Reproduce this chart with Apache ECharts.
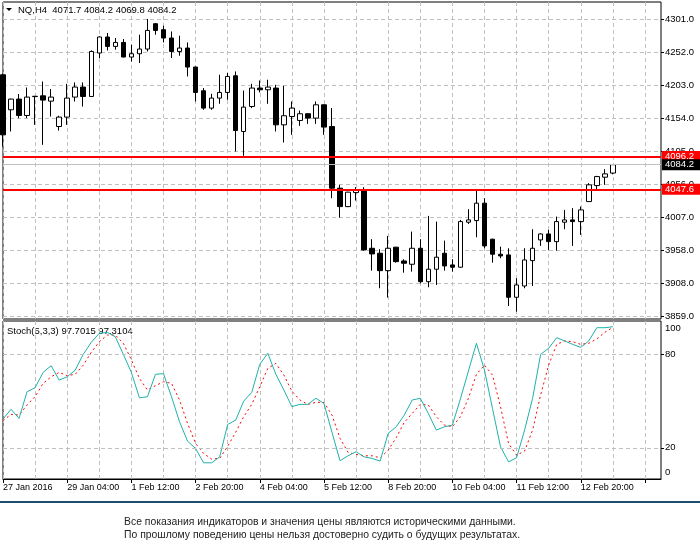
<!DOCTYPE html>
<html>
<head>
<meta charset="utf-8">
<script src="https://cdn.jsdelivr.net/npm/echarts/dist/echarts.min.js"></script>
<style>
  html, body { margin: 0; padding: 0; background: #fff; }
  #chart { width: 700px; height: 552px; }
</style>
</head>
<body>
<div id="chart"></div>
<script>
// NQ, H4 - bars (27 Jan 2016 16:00 onwards)
const opens = [4218.0, 4165.9, 4181.8, 4157.4, 4185.5, 4186.7, 4178.8, 4141.0, 4155.0, 4184.8,
  4199.7, 4185.7, 4250.4, 4274.2, 4260.2, 4266.1, 4244.4, 4249.3, 4256.3, 4294.0,
  4285.1, 4272.7, 4252.7, 4257.8, 4229.5, 4194.2, 4168.4, 4183.3, 4191.7, 4216.5,
  4133.6, 4170.8, 4198.2, 4195.7, 4198.2, 4143.5, 4155.9, 4150.0, 4160.0, 4153.5,
  4173.3, 4141.0, 4049.2, 4021.8, 4042.7, 4046.7, 3959.8, 3952.4, 3926.5, 3961.4,
  3940.9, 3936.0, 3959.8, 3910.1, 3928.6, 3952.4, 3935.0, 3931.6, 3998.6, 4001.0,
  4026.9, 3973.3, 3950.9, 3949.9, 3886.9, 3903.7, 3941.4, 3972.2, 3981.1, 3969.7,
  3998.6, 4002.0, 3999.5, 4029.3, 4053.1, 4065.6, 4071.7]
const highs = [4220.0, 4182.5, 4189.3, 4199.1, 4186.5, 4208.0, 4196.7, 4157.0, 4204.6, 4206.6,
  4206.6, 4254.2, 4275.0, 4280.1, 4272.7, 4271.2, 4262.7, 4277.6, 4301.0, 4295.0,
  4291.0, 4282.5, 4276.1, 4266.1, 4230.0, 4198.2, 4189.7, 4218.0, 4220.6, 4223.0,
  4194.6, 4204.6, 4209.5, 4210.6, 4203.1, 4201.6, 4178.2, 4164.8, 4160.5, 4178.2,
  4174.0, 4168.4, 4054.2, 4044.0, 4050.7, 4050.7, 3973.3, 3958.4, 3978.2, 3962.0,
  3943.5, 3984.6, 3973.3, 4008.0, 3999.5, 3971.2, 3943.5, 4002.0, 4018.0, 4045.7,
  4034.3, 3974.0, 3962.2, 3959.8, 3915.2, 3959.8, 3988.2, 3982.0, 3987.1, 4007.0,
  4016.9, 4019.5, 4021.8, 4056.7, 4067.6, 4077.5, 4084.2]
const lows = [4111.2, 4133.6, 4153.5, 4153.5, 4143.5, 4113.7, 4155.9, 4135.0, 4143.5, 4178.2,
  4170.8, 4185.0, 4242.9, 4254.2, 4255.3, 4244.0, 4237.8, 4235.5, 4252.7, 4277.6,
  4266.1, 4242.9, 4246.3, 4215.5, 4178.2, 4165.9, 4165.9, 4174.8, 4180.8, 4103.8,
  4097.4, 4168.4, 4191.7, 4174.8, 4133.6, 4117.2, 4128.6, 4142.0, 4145.0, 4145.0,
  4128.6, 4034.3, 4005.4, 4021.0, 4030.8, 3956.3, 3926.5, 3900.3, 3886.3, 3938.4,
  3923.5, 3925.0, 3907.7, 3901.8, 3905.2, 3926.5, 3925.0, 3931.0, 3996.0, 3976.2,
  3959.8, 3938.4, 3945.0, 3873.9, 3865.4, 3900.3, 3903.7, 3963.3, 3957.3, 3956.3,
  3988.2, 3963.3, 3979.7, 4029.0, 4047.7, 4054.2, 4069.8]
const closes = [4128.6, 4181.8, 4157.4, 4184.8, 4186.0, 4180.3, 4184.8, 4155.0, 4183.3, 4199.7,
  4185.7, 4252.7, 4274.2, 4260.2, 4266.1, 4244.4, 4249.3, 4256.3, 4284.0, 4284.0,
  4272.7, 4252.7, 4257.8, 4229.5, 4191.7, 4168.4, 4183.3, 4191.7, 4215.5, 4135.0,
  4169.9, 4198.2, 4195.7, 4199.7, 4143.5, 4157.0, 4168.4, 4160.0, 4153.5, 4173.3,
  4140.1, 4049.2, 4021.8, 4043.3, 4046.7, 3957.3, 3951.4, 3926.5, 3959.8, 3939.9,
  3937.5, 3959.8, 3910.1, 3928.6, 3946.5, 3933.5, 3931.6, 3999.5, 4002.0, 4026.9,
  3963.3, 3950.9, 3948.4, 3886.9, 3905.2, 3942.4, 3959.8, 3981.1, 3969.7, 3999.5,
  4002.0, 3999.5, 4016.9, 4054.2, 4066.5, 4070.5, 4084.2]

// Stochastic(5,3,3): main (%K) and signal (%D)
const stochMain = [38.5, 44.7, 38.9, 56.0, 58.6, 68.4, 72.7, 63.5, 65.6, 69.9,
  80.0, 87.7, 93.5, 94.1, 91.3, 80.0, 68.4, 52.1, 52.8, 67.2,
  67.6, 52.8, 36.7, 24.3, 19.6, 10.4, 10.4, 14.2, 35.0, 37.8,
  50.0, 55.6, 73.6, 80.7, 67.2, 57.1, 46.4, 47.9, 47.9, 51.8,
  48.5, 29.9, 11.7, 14.9, 17.5, 14.2, 13.2, 11.5, 29.3, 33.5,
  41.0, 50.7, 51.8, 42.1, 31.4, 33.5, 34.6, 51.3, 69.3, 87.1,
  69.9, 45.3, 20.7, 11.0, 13.6, 31.4, 51.8, 80.0, 83.9, 90.7,
  88.6, 86.4, 84.5, 88.6, 97.1, 97.1, 97.7]
const stochSignal = [37.5, 41.5, 41.0, 47.5, 52.8, 61.4, 65.6, 68.4, 66.3, 67.2,
  73.1, 81.3, 88.1, 92.4, 92.4, 87.1, 76.4, 64.6, 57.1, 59.9,
  62.4, 61.4, 50.7, 35.7, 22.8, 16.4, 12.8, 13.2, 21.0, 30.0,
  40.0, 47.9, 59.2, 71.0, 74.2, 66.7, 56.4, 50.7, 47.9, 49.2,
  49.2, 41.0, 26.1, 17.1, 15.8, 14.9, 14.9, 13.6, 18.5, 26.5,
  36.3, 42.1, 47.9, 47.5, 40.0, 34.6, 33.5, 40.0, 51.8, 67.2,
  73.1, 66.7, 46.4, 22.8, 15.3, 17.9, 31.4, 53.9, 73.1, 86.4,
  88.6, 88.1, 86.4, 87.1, 89.9, 94.1, 97.3]

// time labels, one every 8 bars
const dateLabels = ['27 Jan 2016', '29 Jan 04:00', '1 Feb 12:00', '2 Feb 20:00', '4 Feb 04:00',
  '5 Feb 12:00', '8 Feb 20:00', '10 Feb 04:00', '11 Feb 12:00', '12 Feb 20:00']
const priceTicks = ['3859.0', '3908.0', '3958.0', '4007.0', '4056.0', '4105.0', '4154.0', '4203.0', '4252.0', '4301.0']
const stochTicks = [0, 20, 80, 100]
const stochLevels = [20, 80]
// horizontal lines: resistance, bid, support
const priceLines = [4096.2, 4084.2, 4047.6]
const stochHeader = 'Stoch(5,3,3) 97.7015 97.3104'
const footerLines = ['Все показания индикаторов и значения цены являются историческими данными.',
  'По прошлому поведению цены нельзя достоверно судить о будущих результатах.']

const slotCount = 83 // bars + empty space on the right side
const labelStep = 8
const gridStep = 4
const font = 'Liberation Sans'

let categories = []
for (let i = 0; i < slotCount; i++) {
  categories.push(i % labelStep === 0 && dateLabels[i / labelStep] ? dateLabels[i / labelStep] : '')
}
const candles = opens.map((o, i) => [o, closes[i], lows[i], highs[i]])
const last = opens.length - 1
const header = 'NQ,H4  ' + [opens[last], highs[last], lows[last], closes[last]].map(v => v.toFixed(1)).join(' ')

const pMin = Number(priceTicks[0])
const pMax = Number(priceTicks[priceTicks.length - 1])
const pStep = (pMax - pMin) / (priceTicks.length - 1)

const dash = { color: '#c0c0c0', type: [4, 3], width: 1 }

const myChart = echarts.init(document.getElementById('chart'))

let option = {
  backgroundColor: '#fff',
  animation: false,
  grid: [
    // main window frame
    { left: 3, top: 2, width: 658, height: 317, show: true, borderColor: '#000', borderWidth: 1 },
    // price scale area
    { left: 3, top: 19, width: 658, height: 297 },
    // stochastic window
    { left: 3, top: 321, width: 658, height: 158, show: true, borderColor: '#000', borderWidth: 1 }
  ],
  xAxis: [
    {
      type: 'category', gridIndex: 0, data: categories, boundaryGap: false,
      axisLine: { show: false }, axisTick: { show: false }, axisLabel: { show: false },
      splitLine: { show: true, interval: (i) => i % gridStep === 0, lineStyle: dash }
    },
    {
      type: 'category', gridIndex: 1, data: categories, boundaryGap: false, show: false
    },
    {
      type: 'category', gridIndex: 2, data: categories, boundaryGap: false,
      axisLine: { show: true, lineStyle: { color: '#000', width: 1 } },
      axisTick: { show: true, interval: (i) => i % labelStep === 0, length: 4, lineStyle: { color: '#000' } },
      axisLabel: {
        interval: (i) => i % labelStep === 0, align: 'left', margin: 4,
        color: '#000', fontFamily: font, fontSize: 9
      },
      splitLine: { show: true, interval: (i) => i % gridStep === 0, lineStyle: dash }
    }
  ],
  yAxis: [
    { type: 'value', gridIndex: 0, show: false },
    {
      type: 'value', gridIndex: 1, position: 'right', min: pMin, max: pMax, interval: pStep,
      axisLine: { show: false },
      axisTick: { show: true, inside: false, length: 3, lineStyle: { color: '#000' } },
      axisLabel: {
        margin: 4, color: '#000', fontFamily: font, fontSize: 9.5,
        formatter: (v) => priceTicks[Math.round((v - pMin) / pStep)]
      },
      splitLine: { show: true, lineStyle: dash }
    },
    {
      type: 'value', gridIndex: 2, position: 'right', min: 0, max: 101.4,
      axisLine: { show: false },
      axisTick: { show: true, customValues: stochLevels, length: 3, lineStyle: { color: '#000' } },
      axisLabel: {
        customValues: stochTicks, margin: 4, color: '#000', fontFamily: font, fontSize: 9.5,
        // terminal pushes 0 and 100 inside the window
        formatter: (v) => v === 100 ? '{hi|100}' : v === 0 ? '{lo|0}' : String(v),
        rich: {
          hi: { padding: [10, 0, 0, 0], fontFamily: font, fontSize: 9.5, color: '#000' },
          lo: { padding: [0, 0, 14, 0], fontFamily: font, fontSize: 9.5, color: '#000' }
        }
      },
      splitLine: { show: false }
    }
  ],
  series: [
    {
      name: 'NQ,H4',
      type: 'candlestick',
      xAxisIndex: 1,
      yAxisIndex: 1,
      data: candles,
      barWidth: 5,
      itemStyle: {
        color: '#fff', color0: '#000',
        borderColor: '#000', borderColor0: '#000', borderWidth: 1
      },
      markLine: {
        silent: true,
        symbol: 'none',
        animation: false,
        label: {
          position: 'end', distance: 1, color: '#fff', fontFamily: font, fontSize: 9.5,
          padding: [1, 6, 0, 3],
          formatter: (p) => p.value.toFixed(1)
        },
        data: [
          { yAxis: priceLines[0], lineStyle: { color: '#ff0000', width: 2, type: 'solid' }, label: { backgroundColor: '#ff0000' } },
          { yAxis: priceLines[1], lineStyle: { color: '#c0c0c0', width: 1, type: 'solid' }, label: { backgroundColor: '#000' } },
          { yAxis: priceLines[2], lineStyle: { color: '#ff0000', width: 2, type: 'solid' }, label: { backgroundColor: '#ff0000' } }
        ]
      }
    },
    {
      name: 'Main',
      type: 'line',
      xAxisIndex: 2,
      yAxisIndex: 2,
      data: stochMain,
      symbol: 'none',
      lineStyle: { color: '#20b2aa', width: 1 },
      z: 3,
      markLine: {
        silent: true,
        symbol: 'none',
        animation: false,
        label: { show: false },
        lineStyle: dash,
        data: stochLevels.map(v => ({ yAxis: v }))
      }
    },
    {
      name: 'Signal',
      type: 'line',
      xAxisIndex: 2,
      yAxisIndex: 2,
      data: stochSignal,
      symbol: 'none',
      lineStyle: { color: '#ff0000', width: 1, type: [2, 3] },
      z: 2
    }
  ],
  graphic: [
    // small menu arrow before the symbol name
    { type: 'polygon', shape: { points: [[6, 8], [12, 8], [9, 11]] }, style: { fill: '#000' } },
    { type: 'text', left: 18, top: 5, style: { text: header, font: '9.5px "Liberation Sans"', fill: '#000' } },
    { type: 'text', left: 7, top: 326, style: { text: stochHeader, font: '9.5px "Liberation Sans"', fill: '#000' } },
    { type: 'line', shape: { x1: 0, y1: 502, x2: 700, y2: 502 }, style: { stroke: '#1d4e6b', lineWidth: 2 } },
    { type: 'text', left: 124, top: 517, style: { text: footerLines[0], font: '10.4px "Liberation Sans"', fill: '#222' } },
    { type: 'text', left: 124, top: 530, style: { text: footerLines[1], font: '10.4px "Liberation Sans"', fill: '#222' } }
  ]
}

myChart.setOption(option)
</script>
</body>
</html>
